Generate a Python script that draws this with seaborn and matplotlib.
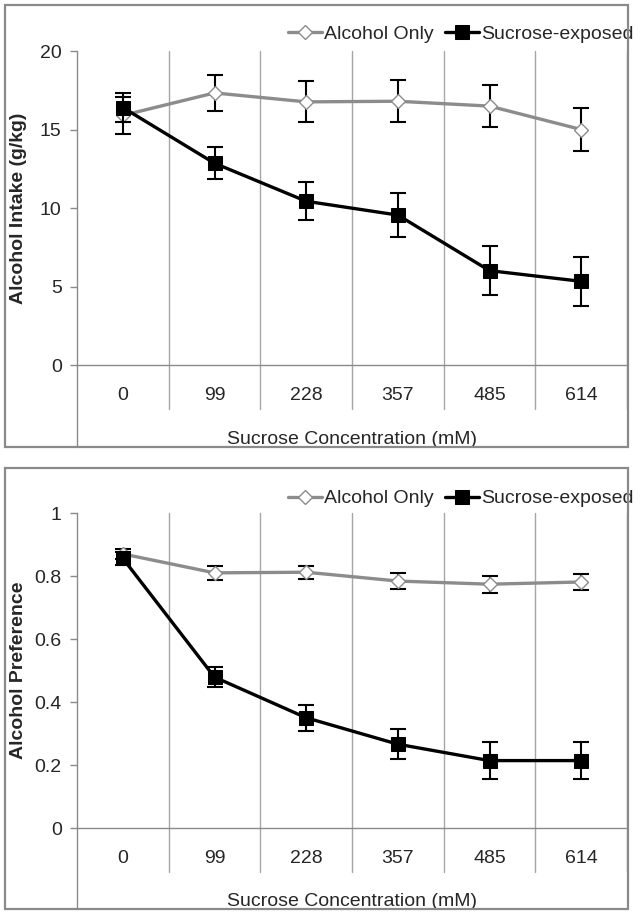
import matplotlib
matplotlib.use("Agg")
import matplotlib.pyplot as plt
from matplotlib.patches import Rectangle
import seaborn as sns

# data
concentrations = ["0", "99", "228", "357", "485", "614"]

intake_alcohol_only = [15.9, 17.33, 16.76, 16.8, 16.49, 15.0]
intake_alcohol_only_err = [1.2, 1.16, 1.31, 1.33, 1.35, 1.37]
intake_sucrose = [16.4, 12.85, 10.43, 9.55, 6.01, 5.33]
intake_sucrose_err = [0.9, 1.03, 1.22, 1.4, 1.55, 1.55]

pref_alcohol_only = [0.87, 0.81, 0.812, 0.784, 0.774, 0.781]
pref_alcohol_only_err = [0.015, 0.022, 0.021, 0.024, 0.027, 0.025]
pref_sucrose = [0.856, 0.479, 0.350, 0.266, 0.214, 0.214]
pref_sucrose_err = [0.02, 0.032, 0.042, 0.048, 0.058, 0.058]

sns.set_style("white")
plt.rcParams["font.family"] = ["Liberation Sans", "DejaVu Sans"]

GRAY = "#8c8c8c"
AXGRAY = "#8a8a8a"
FS = 14

fig = plt.figure(figsize=(6.42, 9.15), dpi=100)

# outer frames of the two panels
for y0, h in [(0.51148, 0.48306), (0.00656, 0.48197)]:
    fig.add_artist(Rectangle((0.00779, y0), 0.9704, h, transform=fig.transFigure,
                             fill=False, edgecolor=AXGRAY, lw=1.6))

ax1 = fig.add_axes([0.11994, 0.60109, 0.8567, 0.34317])
ax2 = fig.add_axes([0.11994, 0.09508, 0.8567, 0.34426])

pos = list(range(len(concentrations)))


def panel(ax, a_vals, a_err, s_vals, s_err, ylim, yticks, yticklabels, ylabel, ext, xlab_y, leg_y):
    ax.errorbar(pos, a_vals, yerr=a_err, fmt="none", ecolor="black", elinewidth=1.5,
                capsize=6, capthick=1.5, zorder=3)
    sns.lineplot(x=pos, y=a_vals, ax=ax, color=GRAY, lw=2.4, marker="D", ms=7.5,
                 markerfacecolor="white", markeredgecolor=GRAY, markeredgewidth=1,
                 label="Alcohol Only", zorder=4)
    ax.errorbar(pos, s_vals, yerr=s_err, fmt="none", ecolor="black", elinewidth=1.5,
                capsize=6, capthick=1.5, zorder=5)
    sns.lineplot(x=pos, y=s_vals, ax=ax, color="black", lw=2.4, marker="s", ms=10,
                 markerfacecolor="black", markeredgecolor="black",
                 label="Sucrose-exposed", zorder=6)

    ax.set_xlim(-0.5, 5.5)
    ax.set_ylim(*ylim)
    ax.set_yticks(yticks)
    ax.set_yticklabels(yticklabels)
    ax.set_xticks(pos)
    ax.set_xticklabels(concentrations)
    ax.tick_params(axis="x", length=0, pad=16, labelsize=FS)
    ax.tick_params(axis="y", length=5, width=1, color=AXGRAY, pad=6, labelsize=FS, left=True)

    for side in ["top", "right"]:
        ax.spines[side].set_visible(False)
    for side in ["left", "bottom"]:
        ax.spines[side].set_color(AXGRAY)
        ax.spines[side].set_linewidth(1)

    # category separators and the long left axis line
    for b in [0.5, 1.5, 2.5, 3.5, 4.5, 5.5]:
        ax.axvline(b, ymin=-0.14, ymax=1, color="#a6a6a6", lw=1, clip_on=False, zorder=1)
    ax.axvline(-0.5, ymin=-ext, ymax=0, color=AXGRAY, lw=1, clip_on=False, zorder=1)

    ax.set_xlabel("Sucrose Concentration (mM)", fontsize=FS)
    ax.xaxis.set_label_coords(0.5, xlab_y)
    ax.xaxis.label.set_va("center")
    ax.set_ylabel(ylabel, fontsize=FS, fontweight="bold")
    ax.yaxis.set_label_coords(-0.107, 0.5)
    ax.yaxis.label.set_va("center")

    ax.legend(loc="center right", bbox_to_anchor=(1.012, leg_y), ncol=2, frameon=False,
              fontsize=FS, handlelength=1.75, handletextpad=0.1, columnspacing=0.6,
              borderpad=0, borderaxespad=0)


panel(ax1, intake_alcohol_only, intake_alcohol_only_err, intake_sucrose, intake_sucrose_err,
      (0, 20), [0, 5, 10, 15, 20], ["0", "5", "10", "15", "20"],
      "Alcohol Intake (g/kg)", 0.261, -0.2375, 1.054)
panel(ax2, pref_alcohol_only, pref_alcohol_only_err, pref_sucrose, pref_sucrose_err,
      (0, 1), [0, 0.2, 0.4, 0.6, 0.8, 1.0], ["0", "0.2", "0.4", "0.6", "0.8", "1"],
      "Alcohol Preference", 0.257, -0.2336, 1.046)

fig.savefig("out.png", dpi=100)
